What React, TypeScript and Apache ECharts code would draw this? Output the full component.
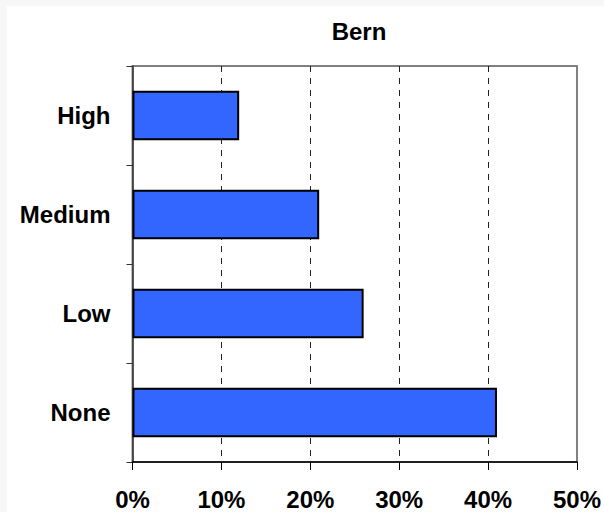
import React, { useEffect, useRef } from "react";
import * as echarts from "echarts";

const categories = ["None", "Low", "Medium", "High"];
const values = [41, 26, 21, 12];
const title = "Bern";

export default function App() {
  const ref = useRef<HTMLDivElement>(null);
  useEffect(() => {
    if (!ref.current) return;
    const chart = echarts.init(ref.current, null, { renderer: "svg", width: 597, height: 506 });
    const font = "Liberation Sans, Arial, sans-serif";
    chart.setOption({
      animation: false,
      backgroundColor: "#ffffff",
      title: {
        text: title,
        left: 347,
        top: 8,
        textAlign: "center",
        textStyle: { fontFamily: font, fontSize: 24, fontWeight: "bold", color: "#000" },
      },
      grid: {
        left: 125.5,
        right: 27,
        top: 60,
        bottom: 50,
        show: true,
        borderColor: "#808080",
        borderWidth: 2,
        backgroundColor: "transparent",
      },
      xAxis: {
        type: "value",
        min: 0,
        max: 50,
        interval: 10,
        axisLine: { show: true, lineStyle: { color: "#000", width: 1.5 } },
        axisTick: { show: true, length: 8, lineStyle: { color: "#000", width: 1 } },
        axisLabel: {
          formatter: "{value}%",
          margin: 25,
          fontFamily: font,
          fontSize: 24,
          fontWeight: "bold",
          color: "#000",
        },
        splitLine: {
          show: true,
          showMinLine: false,
          showMaxLine: false,
          lineStyle: { color: "#222", type: [6, 6], width: 1 },
        },
      },
      yAxis: {
        type: "category",
        data: categories,
        axisLine: { show: true, lineStyle: { color: "#333", width: 1.5 } },
        axisTick: { show: true, length: 6, lineStyle: { color: "#333", width: 1 } },
        axisLabel: {
          margin: 22,
          fontFamily: font,
          fontSize: 24,
          fontWeight: "bold",
          color: "#000",
        },
        splitLine: { show: false },
      },
      series: [
        {
          type: "bar",
          data: values,
          barWidth: "50%",
          itemStyle: { color: "#3366ff", borderColor: "#000", borderWidth: 2 },
        },
      ],
    });
    return () => chart.dispose();
  }, []);
  return (
    <div
      style={{ position: "fixed", left: 0, top: 0, width: 604, height: 512, background: "#f7f7f7" }}
    >
      <div
        ref={ref}
        style={{ position: "absolute", left: 7, top: 6, width: 597, height: 506, background: "#fff" }}
      />
    </div>
  );
}
